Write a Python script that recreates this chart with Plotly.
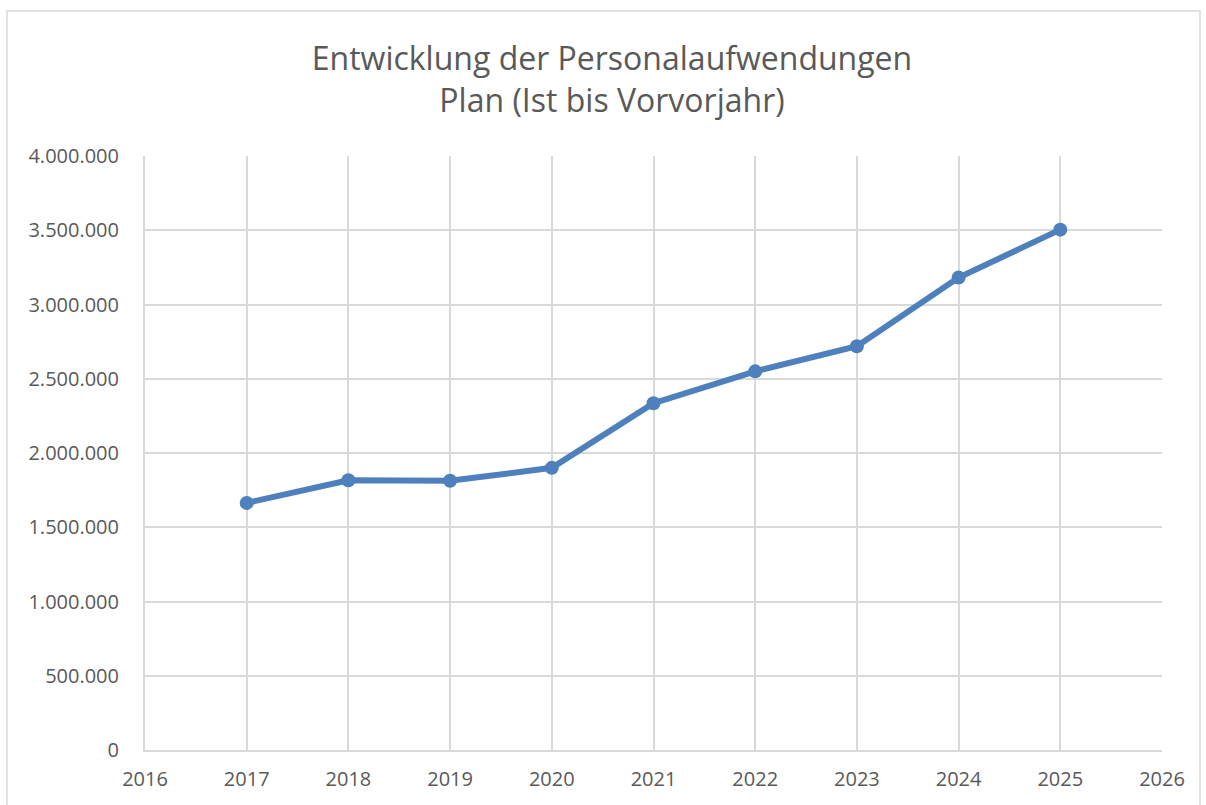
import plotly.graph_objects as go

years = [2017, 2018, 2019, 2020, 2021, 2022, 2023, 2024, 2025]
values = [1664000, 1816000, 1813000, 1900000, 2335000, 2550000, 2719000, 3181000, 3504000]
y_ticks = [0, 500000, 1000000, 1500000, 2000000, 2500000, 3000000, 3500000, 4000000]
y_tick_labels = ["0", "500.000", "1.000.000", "1.500.000", "2.000.000", "2.500.000",
                 "3.000.000", "3.500.000", "4.000.000"]
x_ticks = list(range(2016, 2027))
title_text = "Entwicklung der Personalaufwendungen<br>Plan (Ist bis Vorvorjahr)"

W, H = 1206, 805
L, R, T, B = 145, 44, 156, 55
pw, ph = W - L - R, H - T - B

def px_x(px):
    return (px - L) / pw

def px_y(py):
    return (H - B - py) / ph

fig = go.Figure()
fig.add_trace(go.Scatter(
    x=years, y=values, mode="lines+markers",
    line=dict(color="#4e80bd", width=6),
    marker=dict(color="#4e80bd", size=14),
    showlegend=False, hoverinfo="x+y"
))

fig.update_layout(
    width=W, height=H,
    margin=dict(l=L, r=R, t=T, b=B),
    paper_bgcolor="white", plot_bgcolor="white",
    font=dict(family="Open Sans", color="#595959"),
    title=dict(text=title_text, x=612 / W, xanchor="center", xref="container",
               y=1 - 70 / H, yanchor="middle",
               font=dict(size=32, color="#595959", family="Open Sans")),
    xaxis=dict(range=[2016, 2026], tickvals=x_ticks, ticktext=[str(v) for v in x_ticks],
               showgrid=True, gridcolor="#d9d9d9", gridwidth=2,
               showline=True, linecolor="#d9d9d9", linewidth=2,
               zeroline=False, ticks="outside", ticklen=10, tickcolor="rgba(0,0,0,0)",
               tickfont=dict(size=20, color="#595959"), mirror=False),
    yaxis=dict(range=[0, 4000000], tickvals=y_ticks, ticktext=y_tick_labels,
               showgrid=True, gridcolor="#d9d9d9", gridwidth=2,
               showline=True, linecolor="#d9d9d9", linewidth=2,
               zeroline=False, ticks="outside", ticklen=20, tickcolor="rgba(0,0,0,0)",
               tickfont=dict(size=20, color="#595959")),
    shapes=[dict(type="rect", xref="paper", yref="paper",
                 x0=px_x(7), x1=px_x(1200), y0=px_y(815), y1=px_y(11),
                 line=dict(color="#d9d9d9", width=1.5), fillcolor="rgba(0,0,0,0)",
                 layer="below")],
)

fig.write_html("out.html", config={"displayModeBar": False},
               post_script="document.body.style.margin='0';document.body.style.overflow='hidden';")
